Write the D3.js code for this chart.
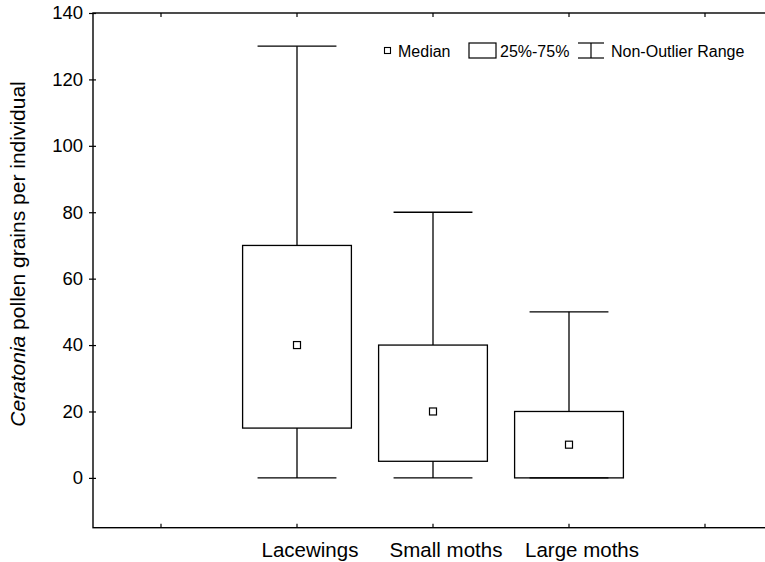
<!DOCTYPE html>
<html>
<head>
<meta charset="utf-8">
<script src="https://cdn.jsdelivr.net/npm/d3@7"></script>
<style>
  html, body { margin: 0; padding: 0; background: #fff; }
  svg { display: block; font-family: "Liberation Sans", Arial, Helvetica, sans-serif; }
</style>
</head>
<body>
<svg id="chart" width="765" height="562"></svg>
<script>
// Pollen load per insect group (box = quartiles, whiskers = non-outlier range)
const categories = ["Lacewings", "Small moths", "Large moths"];
const medians    = [40, 20, 10];
const q1         = [15, 5, 0];
const q3         = [70, 40, 20];
const whiskerMin = [0, 0, 0];
const whiskerMax = [130, 80, 50];
const yTicks     = [0, 20, 40, 60, 80, 100, 120, 140];

const svg = d3.select("#chart");
const plot = { left: 93, right: 773, top: 13, bottom: 527.7 };

// Empty slots on each side of the three groups
const slots = ["pad-left", ...categories, "pad-right"];
const x = d3.scaleBand().domain(slots).range([plot.left, plot.right]).padding(0);
const y = d3.scaleLinear().domain([-15, 140]).range([plot.bottom, plot.top]);

const cx = c => x(c) + x.bandwidth() / 2;
const boxW = x.bandwidth() * 0.8;
const capW = x.bandwidth() * 0.58;
const ink = "#000";
const sw = 1.3;

// Frame
svg.append("rect")
  .attr("x", plot.left).attr("y", plot.top)
  .attr("width", plot.right - plot.left).attr("height", plot.bottom - plot.top)
  .attr("fill", "none").attr("stroke", ink).attr("stroke-width", 1.4);

// Y axis
const yAxis = svg.append("g")
  .attr("transform", `translate(${plot.left},0)`)
  .call(d3.axisLeft(y).tickValues(yTicks).tickSize(4).tickPadding(6));
yAxis.select(".domain").remove();
yAxis.selectAll("line").attr("stroke", ink).attr("stroke-width", 1.2).attr("x2", -4).attr("x1", 3);
yAxis.selectAll("text")
  .attr("font-size", 18.5).attr("fill", ink)
  .attr("font-family", "'Liberation Sans', Arial, sans-serif");

// X axis: ticks inside the frame on bottom and top
const xAxis = svg.append("g")
  .attr("transform", `translate(0,${plot.bottom})`)
  .call(d3.axisBottom(x).tickSize(-4).tickFormat(d => categories.includes(d) ? d : ""));
xAxis.select(".domain").remove();
xAxis.selectAll("line").attr("stroke", ink).attr("stroke-width", 1.2);
xAxis.selectAll("text")
  .attr("font-size", 20.5).attr("fill", ink)
  .attr("font-family", "'Liberation Sans', Arial, sans-serif")
  .attr("y", 29).attr("dy", 0).attr("dx", 13);

const xTop = svg.append("g")
  .attr("transform", `translate(0,${plot.top})`)
  .call(d3.axisTop(x).tickSize(-4).tickFormat(""));
xTop.select(".domain").remove();
xTop.selectAll("line").attr("stroke", ink).attr("stroke-width", 1.2);

// Y axis title
const title = svg.append("text")
  .attr("transform", "translate(25,254) rotate(-90)")
  .attr("text-anchor", "middle")
  .attr("font-size", 21)
  .attr("fill", ink);
title.append("tspan").attr("font-style", "italic").text("Ceratonia");
title.append("tspan").text(" pollen grains per individual");

// Boxes
const groups = svg.append("g").selectAll("g")
  .data(categories.map((c, i) => ({
    c, med: medians[i], lo: q1[i], hi: q3[i], wmin: whiskerMin[i], wmax: whiskerMax[i]
  })))
  .join("g");

// whisker stems
groups.append("line")
  .attr("x1", d => cx(d.c)).attr("x2", d => cx(d.c))
  .attr("y1", d => y(d.hi)).attr("y2", d => y(d.wmax))
  .attr("stroke", ink).attr("stroke-width", sw);
groups.append("line")
  .attr("x1", d => cx(d.c)).attr("x2", d => cx(d.c))
  .attr("y1", d => y(d.lo)).attr("y2", d => y(d.wmin))
  .attr("stroke", ink).attr("stroke-width", sw);
// caps
groups.append("line")
  .attr("x1", d => cx(d.c) - capW / 2).attr("x2", d => cx(d.c) + capW / 2)
  .attr("y1", d => y(d.wmax)).attr("y2", d => y(d.wmax))
  .attr("stroke", ink).attr("stroke-width", sw);
groups.append("line")
  .attr("x1", d => cx(d.c) - capW / 2).attr("x2", d => cx(d.c) + capW / 2)
  .attr("y1", d => y(d.wmin)).attr("y2", d => y(d.wmin))
  .attr("stroke", ink).attr("stroke-width", sw);
// interquartile box
groups.append("rect")
  .attr("x", d => cx(d.c) - boxW / 2).attr("width", boxW)
  .attr("y", d => y(d.hi)).attr("height", d => y(d.lo) - y(d.hi))
  .attr("fill", "none").attr("stroke", ink).attr("stroke-width", sw);
// median marker
const ms = 7;
groups.append("rect")
  .attr("x", d => cx(d.c) - ms / 2).attr("y", d => y(d.med) - ms / 2)
  .attr("width", ms).attr("height", ms)
  .attr("fill", "#fff").attr("stroke", ink).attr("stroke-width", 1.2);

// Legend
const lg = svg.append("g").attr("font-size", 16).attr("fill", ink);
const ly = 51;
lg.append("rect").attr("x", 384.5).attr("y", ly - 3.5).attr("width", 6).attr("height", 6)
  .attr("fill", "#fff").attr("stroke", ink).attr("stroke-width", 1.1);
lg.append("text").attr("x", 398).attr("y", ly + 5.5).text("Median");
lg.append("rect").attr("x", 469).attr("y", ly - 8).attr("width", 27).attr("height", 15)
  .attr("fill", "none").attr("stroke", ink).attr("stroke-width", 1.2);
lg.append("text").attr("x", 500).attr("y", ly + 5.5).text("25%-75%");
lg.append("line").attr("x1", 578).attr("x2", 604).attr("y1", ly - 8).attr("y2", ly - 8)
  .attr("stroke", ink).attr("stroke-width", 1.2);
lg.append("line").attr("x1", 578).attr("x2", 604).attr("y1", ly + 7).attr("y2", ly + 7)
  .attr("stroke", ink).attr("stroke-width", 1.2);
lg.append("line").attr("x1", 591).attr("x2", 591).attr("y1", ly - 8).attr("y2", ly + 7)
  .attr("stroke", ink).attr("stroke-width", 1.2);
lg.append("text").attr("x", 611).attr("y", ly + 5.5).text("Non-Outlier Range");
</script>
</body>
</html>
